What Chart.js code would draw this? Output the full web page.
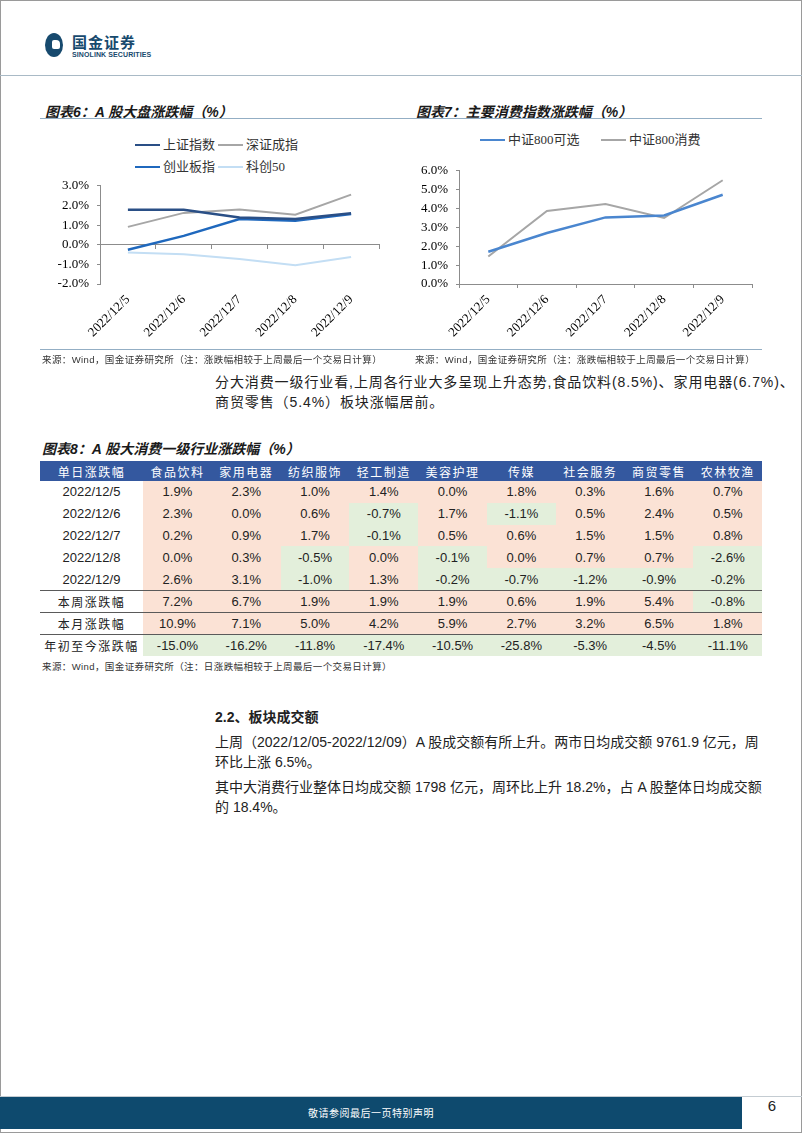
<!DOCTYPE html>
<html lang="zh-CN">
<head>
<meta charset="utf-8">
<title>国金证券 - 第6页</title>
<script src="https://cdn.jsdelivr.net/npm/chart.js@4.4.0/dist/chart.umd.min.js"></script>
<style>
  html, body { margin: 0; padding: 0; background: #fff; }
  body { width: 802px; height: 1133px; position: relative; overflow: hidden;
         font-family: "Liberation Sans", "Noto Sans CJK SC", sans-serif; color: #222; }
  .abs { position: absolute; }
  #frame { left: 0; top: 0; width: 800px; height: 1131px; border: 1px solid #9a9a9a; }
  #headline { left: 0; top: 75px; width: 802px; height: 0; border-top: 1.5px solid #a9bac6; }
  .logo-dot { left: 45px; top: 33px; width: 18px; height: 24px; border-radius: 50%; background: #174a6e; }
  .logo-dot::after { content: ""; position: absolute; left: 7px; top: 7px; width: 8px; height: 9px;
                     background: #fff; border-radius: 2px 4px 2px 2px; }
  .logo-cn { left: 72px; top: 34px; font: bold 15px "Noto Sans CJK SC", sans-serif; line-height: 16px; color: #174a6e; letter-spacing: 1px; }
  .logo-en { left: 72px; top: 51px; font: bold 7px "Liberation Sans", sans-serif; line-height: 8px; color: #174a6e; letter-spacing: 0.1px; }
  .fig-title { font: italic bold 14px "Liberation Sans", "Noto Sans CJK SC", sans-serif; color: #1a1a1a; white-space: nowrap; }
  .rule { height: 0; border-top: 1.5px solid #93aec4; }
  .source { font: 9.5px "Liberation Sans", "Noto Sans CJK SC", sans-serif; color: #333; white-space: nowrap; letter-spacing: 0.4px; }
  .legend-item { position: absolute; font: 13px "Liberation Serif", "Noto Sans CJK SC", serif; color: #333; white-space: nowrap; line-height: 16px; }
  .legend-item i { display: inline-block; width: 25px; height: 0; border-top: 2.5px solid; vertical-align: middle; margin-right: 3px; position: relative; top: -1px; }
  .para { font-size: 14px; line-height: 20px; white-space: nowrap; color: #222; }
  table { border-collapse: collapse; table-layout: fixed; }
  #tbl { left: 40px; top: 461px; width: 722px; }
  #tbl th { background: #34589f; color: #fff; font: 12px "Noto Sans CJK SC", sans-serif; letter-spacing: 1.5px; height: 20px; padding: 0; font-weight: normal; }
  #tbl td { font: 13px "Liberation Sans", "Noto Sans CJK SC", sans-serif; color: #222; text-align: center; padding: 0; height: 21.8px; }
  #tbl td.lab { background: #fff; }
  #tbl td.cn { font: 12px "Noto Sans CJK SC", sans-serif; letter-spacing: 1.5px; }
  #tbl tr.sum td { height: 21px; border-top: 1.5px solid #5a5a5a; }
  #tbl td.pos { background: #fbe2d5; }
  #tbl td.neg { background: #e3efdb; }
  #footer-bar { left: 0; top: 1097px; width: 742px; height: 32px; background: #0e4a6e; color: #fff;
                font: 10px "Noto Sans CJK SC", sans-serif; text-align: center; line-height: 32px; letter-spacing: 0.5px; }
  #footer-line { left: 0; top: 1096px; width: 802px; height: 0; border-top: 1px solid #c4ccd2; }
  #page-no { left: 742px; top: 1097px; width: 60px; height: 32px; line-height: 36px; text-align: center; font: 15px "Liberation Sans", sans-serif; color: #222; }
</style>
</head>
<body>
<div id="frame" class="abs"></div>
<div class="abs logo-dot"></div>
<div class="abs logo-cn">国金证券</div>
<div class="abs logo-en">SINOLINK SECURITIES</div>
<div id="headline" class="abs"></div>

<div class="abs fig-title" style="left:45px; top:101px;">图表6：A 股大盘涨跌幅（%）</div>
<div class="abs fig-title" style="left:416px; top:101px;">图表7：主要消费指数涨跌幅（%）</div>
<div class="abs rule" style="left:40px; top:118px; width:722px;"></div>

<div id="legend1"></div>
<div id="legend2"></div>
<canvas id="chart1" class="abs" width="360" height="180" style="left:40px; top:170px;"></canvas>
<canvas id="chart2" class="abs" width="362" height="195" style="left:400px; top:155px;"></canvas>

<div class="abs rule" style="left:40px; top:349px; width:722px; border-top-width:1px;"></div>
<div class="abs source" style="left:42px; top:352px;">来源：Wind，国金证券研究所（注：涨跌幅相较于上周最后一个交易日计算）</div>
<div class="abs source" style="left:415px; top:352px;">来源：Wind，国金证券研究所（注：涨跌幅相较于上周最后一个交易日计算）</div>

<div class="abs para" style="left:215px; top:372px; letter-spacing:0.9px;">分大消费一级行业看,上周各行业大多呈现上升态势,食品饮料(8.5%)、家用电器(6.7%)、<br>商贸零售（5.4%）板块涨幅居前。</div>

<div class="abs fig-title" style="left:42px; top:438px;">图表8：A 股大消费一级行业涨跌幅（%）</div>
<table id="tbl" class="abs"></table>
<div class="abs source" style="left:42px; top:659px;">来源：Wind，国金证券研究所（注：日涨跌幅相较于上周最后一个交易日计算）</div>

<div class="abs para" style="left:215px; top:707px; font-weight:bold;">2.2、板块成交额</div>
<div class="abs para" style="left:215px; top:732px;">上周（2022/12/05-2022/12/09）A 股成交额有所上升。两市日均成交额 9761.9 亿元，周<br>环比上涨 6.5%。</div>
<div class="abs para" style="left:215px; top:777px;">其中大消费行业整体日均成交额 1798 亿元，周环比上升 18.2%，占 A 股整体日均成交额<br>的 18.4%。</div>

<div id="footer-line" class="abs"></div>
<div id="footer-bar" class="abs">敬请参阅最后一页特别声明</div>
<div id="page-no" class="abs">6</div>

<script>
// ---- chart data ----
const dates = ['2022/12/5', '2022/12/6', '2022/12/7', '2022/12/8', '2022/12/9'];

const shIndex  = [1.78, 1.78, 1.39, 1.31, 1.60];   // 上证指数
const szIndex  = [0.91, 1.62, 1.79, 1.53, 2.55];   // 深证成指
const cybIndex = [-0.26, 0.45, 1.31, 1.22, 1.56];  // 创业板指
const kc50     = [-0.40, -0.48, -0.73, -1.05, -0.62]; // 科创50

const csi800Disc = [1.71, 2.70, 3.53, 3.63, 4.73]; // 中证800可选
const csi800Cons = [1.46, 3.87, 4.24, 3.50, 5.50]; // 中证800消费

const yTicks1 = [-2, -1, 0, 1, 2, 3];
const yTicks2 = [0, 1, 2, 3, 4, 5, 6];

// ---- table data ----
const industries = ['食品饮料', '家用电器', '纺织服饰', '轻工制造', '美容护理', '传媒', '社会服务', '商贸零售', '农林牧渔'];
const rowLabels = ['2022/12/5', '2022/12/6', '2022/12/7', '2022/12/8', '2022/12/9', '本周涨跌幅', '本月涨跌幅', '年初至今涨跌幅'];
const day1205 = [1.9, 2.3, 1.0, 1.4, 0.0, 1.8, 0.3, 1.6, 0.7];
const day1206 = [2.3, 0.0, 0.6, -0.7, 1.7, -1.1, 0.5, 2.4, 0.5];
const day1207 = [0.2, 0.9, 1.7, -0.1, 0.5, 0.6, 1.5, 1.5, 0.8];
const day1208 = [0.0, 0.3, -0.5, 0.0, -0.1, 0.0, 0.7, 0.7, -2.6];
const day1209 = [2.6, 3.1, -1.0, 1.3, -0.2, -0.7, -1.2, -0.9, -0.2];
const weekChg  = [7.2, 6.7, 1.9, 1.9, 1.9, 0.6, 1.9, 5.4, -0.8];
const monthChg = [10.9, 7.1, 5.0, 4.2, 5.9, 2.7, 3.2, 6.5, 1.8];
const ytdChg   = [-15.0, -16.2, -11.8, -17.4, -10.5, -25.8, -5.3, -4.5, -11.1];
const tableRows = [day1205, day1206, day1207, day1208, day1209, weekChg, monthChg, ytdChg];

Chart.defaults.animation = false;
Chart.defaults.devicePixelRatio = 1;

const axisGray = '#8c8c8c';
const tickFont = { family: '"Liberation Serif", "Times New Roman", serif', size: 13 };

function lineSet(label, data, color, width) {
  return { label: label, data: data, borderColor: color, backgroundColor: color,
           borderWidth: width, pointRadius: 0, pointHoverRadius: 0, tension: 0, fill: false };
}

function pct(v) { return v.toFixed(1) + '%'; }

function buildOptions(ticks, yWidth, xHeight, pad, zeroAxis) {
  const scales = {
    x: {
      type: 'category', offset: true,
      grid: zeroAxis ? { display: false, drawTicks: false }
                     : { offset: true, drawOnChartArea: false, drawTicks: true, tickLength: 4, color: axisGray },
      border: zeroAxis ? { display: false } : { color: axisGray, width: 1 },
      ticks: { minRotation: 45, maxRotation: 45, autoSkip: false, padding: zeroAxis ? 8 : 4, color: '#000', font: tickFont },
      afterFit: function (s) { s.height = xHeight; }
    },
    y: {
      min: ticks[0], max: ticks[ticks.length - 1],
      ticks: { stepSize: 1, callback: pct, color: '#000', font: tickFont, padding: 8 },
      grid: { drawOnChartArea: false, drawTicks: true, tickLength: 3, color: axisGray },
      border: { color: axisGray, width: 1 },
      afterFit: function (s) { s.width = yWidth; }
    }
  };
  if (zeroAxis) {
    // horizontal axis line crossing at 0, tick marks between categories
    scales.xZero = {
      type: 'category', position: { y: 0 }, offset: true,
      grid: { offset: true, drawOnChartArea: false, drawTicks: true, tickLength: 4, color: axisGray },
      border: { color: axisGray, width: 1 },
      ticks: { display: false }
    };
  }
  return {
    responsive: false,
    layout: { padding: pad },
    plugins: { legend: { display: false }, tooltip: { enabled: false } },
    scales: scales
  };
}

// simple html legend, laid out as in the report
function htmlLegend(holderId, chart, spots) {
  const holder = document.getElementById(holderId);
  chart.data.datasets.forEach(function (ds, i) {
    const el = document.createElement('div');
    el.className = 'legend-item';
    el.style.left = spots[i][0] + 'px';
    el.style.top = spots[i][1] + 'px';
    el.innerHTML = '<i style="border-color:' + ds.borderColor + '; border-top-width:' + ds.borderWidth + 'px"></i>' + ds.label;
    holder.appendChild(el);
  });
}

const chart1 = new Chart(document.getElementById('chart1'), {
  type: 'line',
  data: {
    labels: dates,
    datasets: [
      lineSet('上证指数', shIndex, '#2a4f86', 2.5),
      lineSet('深证成指', szIndex, '#a6a6a6', 2),
      lineSet('创业板指', cybIndex, '#1f68bd', 2.5),
      lineSet('科创50', kc50, '#c3def4', 2)
    ]
  },
  options: buildOptions(yTicks1, 60, 66, { top: 7, right: 21, left: 0, bottom: 0 }, true)
});
htmlLegend('legend1', chart1, [[135, 137], [218, 137], [135, 159], [218, 159]]);

const chart2 = new Chart(document.getElementById('chart2'), {
  type: 'line',
  data: {
    labels: dates,
    datasets: [
      lineSet('中证800可选', csi800Disc, '#4a86cf', 2.5),
      lineSet('中证800消费', csi800Cons, '#a6a6a6', 2)
    ]
  },
  options: buildOptions(yTicks2, 59, 66, { top: 6, right: 10, left: 0, bottom: 0 }, false)
});
htmlLegend('legend2', chart2, [[480, 132], [601, 132]]);

// ---- table ----
(function () {
  const tbl = document.getElementById('tbl');
  let html = '<colgroup><col style="width:103px">';
  industries.forEach(function () { html += '<col style="width:68.8px">'; });
  html += '</colgroup><tr><th>单日涨跌幅</th>';
  industries.forEach(function (name) { html += '<th>' + name + '</th>'; });
  html += '</tr>';
  tableRows.forEach(function (vals, r) {
    const isSum = r >= 5;
    html += '<tr' + (isSum ? ' class="sum"' : '') + '><td class="lab' + (isSum ? ' cn' : '') + '">' + rowLabels[r] + '</td>';
    vals.forEach(function (v) {
      html += '<td class="' + (v < 0 ? 'neg' : 'pos') + '">' + pct(v) + '</td>';
    });
    html += '</tr>';
  });
  tbl.innerHTML = html;
})();
</script>
</body>
</html>
